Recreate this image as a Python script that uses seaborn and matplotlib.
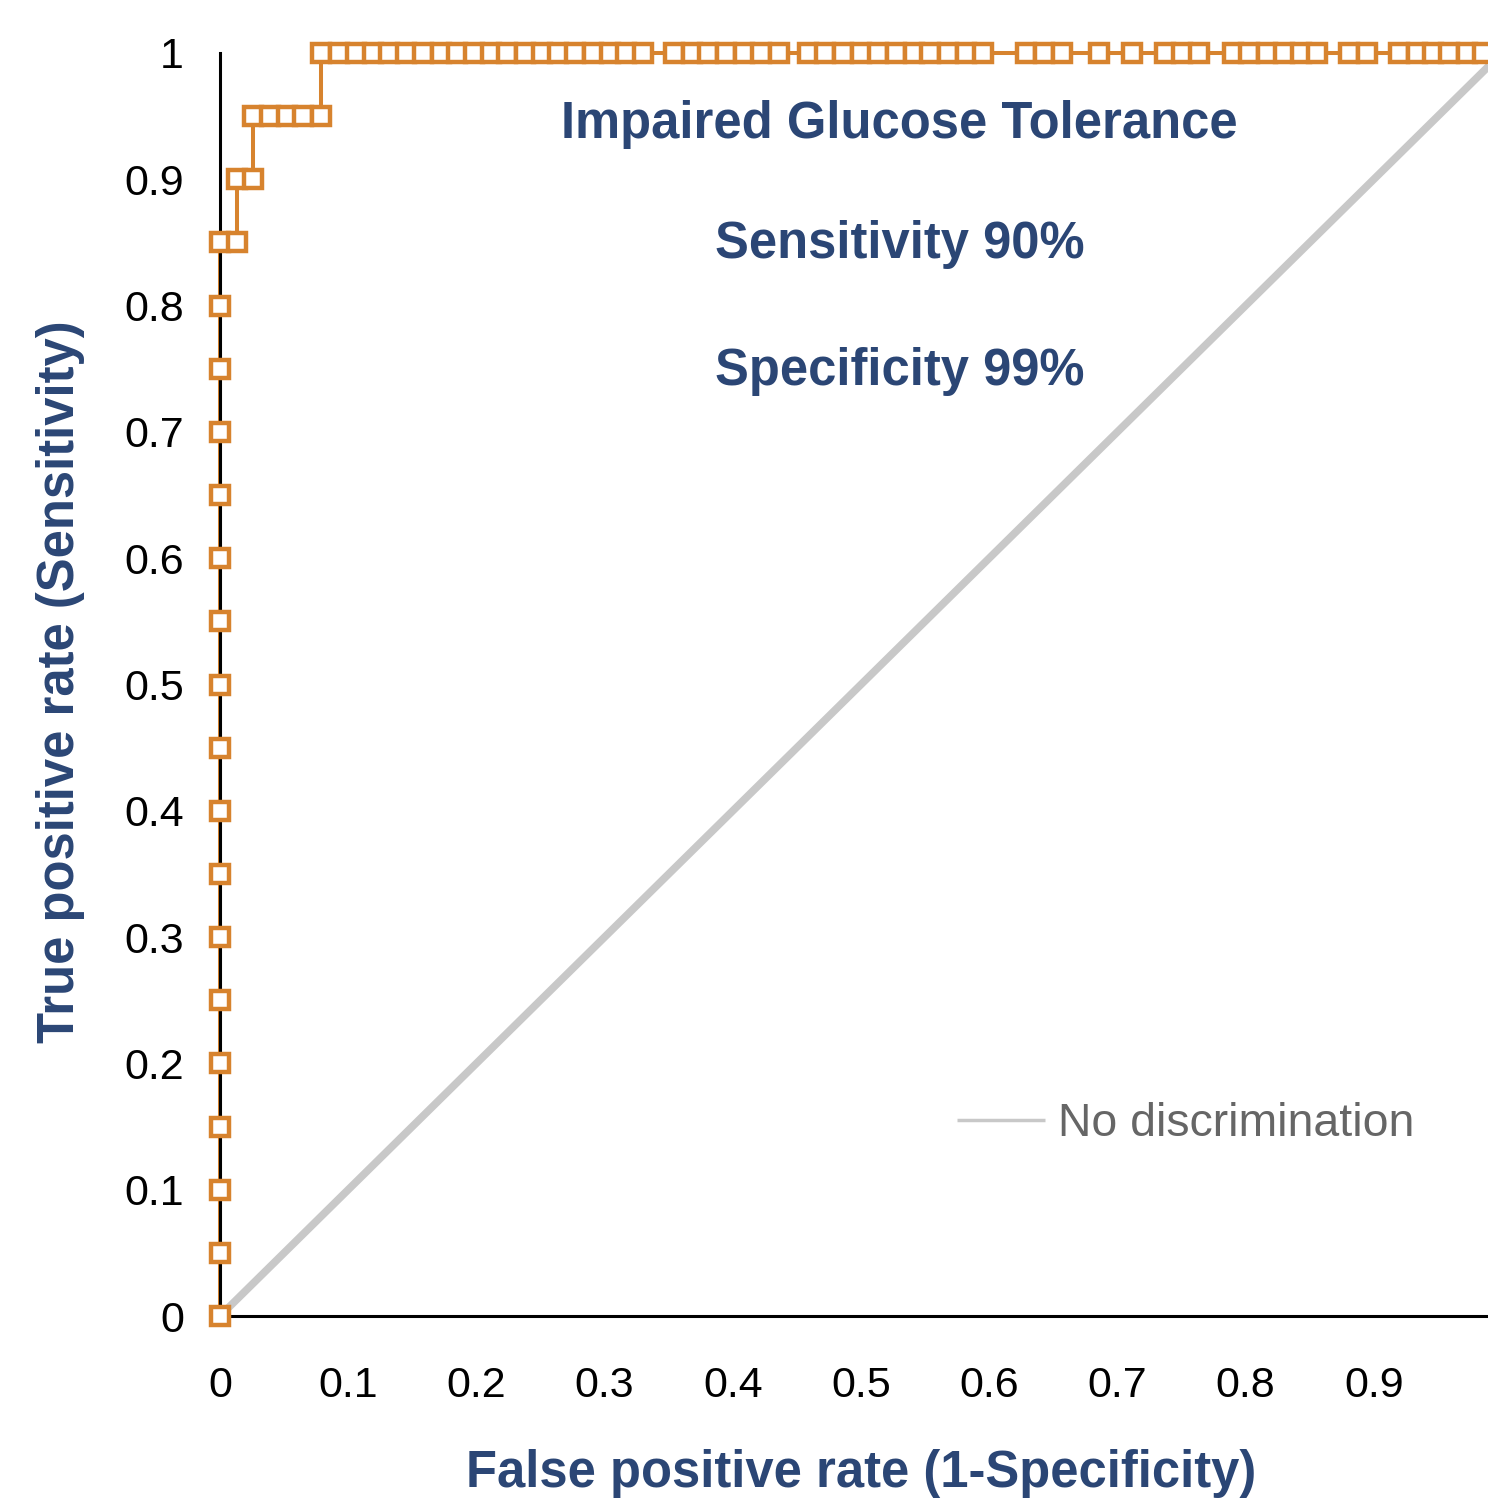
import numpy as np
import pandas as pd
import matplotlib
matplotlib.use("Agg")
import matplotlib.pyplot as plt
import seaborn as sns

# ---------------- data ----------------
fpr_left = [0.0] * 18
tpr_left = [0.0, 0.05, 0.10, 0.15, 0.20, 0.25, 0.30, 0.35, 0.40, 0.45,
            0.50, 0.55, 0.60, 0.65, 0.70, 0.75, 0.80, 0.85]
fpr_step = [0.013, 0.013, 0.026, 0.026, 0.039, 0.052, 0.065, 0.079]
tpr_step = [0.85, 0.90, 0.90, 0.95, 0.95, 0.95, 0.95, 0.95]
fpr_top = [0.079, 0.093, 0.106, 0.119, 0.132, 0.145, 0.158, 0.172, 0.185, 0.198,
           0.211, 0.224, 0.238, 0.251, 0.264, 0.277, 0.291, 0.304, 0.317, 0.330,
           0.354, 0.368, 0.381, 0.395, 0.409, 0.422, 0.436,
           0.459, 0.472, 0.486, 0.500, 0.513, 0.527, 0.541, 0.554, 0.568, 0.582, 0.595,
           0.629, 0.643, 0.657,
           0.686, 0.711,
           0.737, 0.750, 0.764,
           0.790, 0.803, 0.817, 0.830, 0.843, 0.856,
           0.881, 0.895,
           0.920, 0.934, 0.946, 0.959, 0.973, 0.985, 1.0]
tpr_top = [1.0] * len(fpr_top)

diag_x = [0.0, 1.0]
diag_y = [0.0, 1.0]

tick_vals = [0.0, 0.1, 0.2, 0.3, 0.4, 0.5, 0.6, 0.7, 0.8, 0.9, 1.0]
ytick_labels = ["0", "0.1", "0.2", "0.3", "0.4", "0.5", "0.6", "0.7", "0.8", "0.9", "1"]
# the "1" of the x axis lies beyond the cropped right edge in the reference
xtick_labels = ["0", "0.1", "0.2", "0.3", "0.4", "0.5", "0.6", "0.7", "0.8", "0.9", ""]

title_txt = "Impaired Glucose Tolerance"
sens_txt = "Sensitivity 90%"
spec_txt = "Specificity 99%"
xlabel_txt = "False positive rate (1-Specificity)"
ylabel_txt = "True positive rate (Sensitivity)"
legend_txt = "No discrimination"

# ---------------- style ----------------
sns.set_style("white")
plt.rcParams["font.family"] = ["Liberation Sans", "DejaVu Sans"]

orange = "#D7832E"
blue = "#2B4675"
grey_line = "#C8C8C8"
grey_text = "#666666"

roc = pd.DataFrame({"fpr": fpr_left + fpr_step + fpr_top,
                    "tpr": tpr_left + tpr_step + tpr_top})

fig = plt.figure(figsize=(14.88, 15.05), dpi=100)
ax = fig.add_axes([220 / 1488, 189 / 1505, 1282 / 1488, 1263 / 1505])

# diagonal
sns.lineplot(x=diag_x, y=diag_y, color=grey_line, linewidth=5.5, ax=ax,
             label=legend_txt, zorder=1, solid_capstyle="butt")

# ROC line (below spine) and markers (above)
sns.lineplot(data=roc, x="fpr", y="tpr", sort=False, estimator=None, color=orange,
             linewidth=2.9, ax=ax, zorder=2, clip_on=False)
sns.lineplot(data=roc, x="fpr", y="tpr", sort=False, estimator=None, color=orange,
             linestyle="none", marker="s", markersize=12.3, markerfacecolor="white",
             markeredgecolor=orange, markeredgewidth=3.2, ax=ax, zorder=4, clip_on=False)

ax.set_xlim(0, 1)
ax.set_ylim(0, 1)
ax.set_xticks(tick_vals)
ax.set_xticklabels(xtick_labels)
ax.set_yticks(tick_vals)
ax.set_yticklabels(ytick_labels)

for s in ["top", "right"]:
    ax.spines[s].set_visible(False)
for s in ["left", "bottom"]:
    ax.spines[s].set_color("black")
    ax.spines[s].set_linewidth(2.2)

ax.tick_params(axis="both", direction="out", length=9, width=2.2, color="black",
               labelsize=31, labelcolor="black")
ax.tick_params(axis="y", pad=17)
ax.tick_params(axis="x", pad=27)

ax.set_xlabel(xlabel_txt, fontsize=36.5, fontweight="bold", color=blue, va="center")
ax.xaxis.set_label_coords(0.5, (1316 - 1474) / 1263)
ax.set_ylabel(ylabel_txt, fontsize=36.5, fontweight="bold", color=blue, va="center")
ax.yaxis.set_label_coords((61 - 220) / 1282, (1316 - 682) / 1263)

ax.text(0.53, 0.943, title_txt, ha="center", va="center", fontsize=36.5,
        fontweight="bold", color=blue, transform=ax.transAxes)
ax.text(0.53, 0.848, sens_txt, ha="center", va="center", fontsize=36.5,
        fontweight="bold", color=blue, transform=ax.transAxes)
ax.text(0.53, 0.748, spec_txt, ha="center", va="center", fontsize=36.5,
        fontweight="bold", color=blue, transform=ax.transAxes)

handles, labels = ax.get_legend_handles_labels()
keep = [(h, l) for h, l in zip(handles, labels) if l == legend_txt]
leg = ax.legend([keep[0][0]], [keep[0][1]], loc="center left",
                bbox_to_anchor=((957 - 220) / 1282, (1316 - 1124) / 1263),
                frameon=False, fontsize=33.4, handlelength=1.9, handletextpad=0.27,
                borderpad=0, borderaxespad=0, labelcolor=grey_text)
for ln in leg.get_lines():
    ln.set_linewidth(2.5)

fig.savefig("out.png", dpi=100)
